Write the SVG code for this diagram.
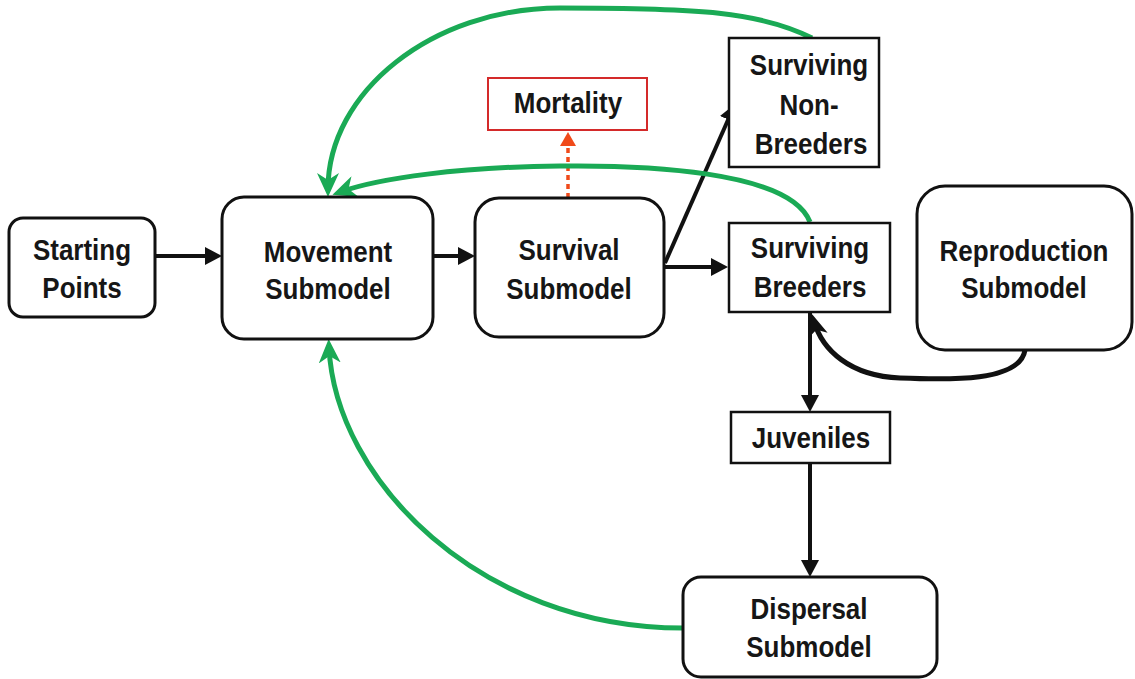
<svg xmlns="http://www.w3.org/2000/svg" width="1135" height="679" viewBox="0 0 1135 679">
<style>
.nb{fill:#fff;stroke:#111;stroke-width:3}
.nr{fill:#fff;stroke:#111;stroke-width:2.5}
.t{font-family:"Liberation Sans",Arial,sans-serif;font-weight:bold;font-size:26px;fill:#161616;text-anchor:middle}
.bk{fill:none;stroke:#111;stroke-width:4;marker-end:url(#ab)}
.gr{fill:none;stroke:#1aaa55;stroke-width:5;marker-end:url(#ag)}
</style>
<defs>
<marker id="ab" viewBox="0 0 17 18" refX="11" refY="9" markerWidth="17" markerHeight="18" markerUnits="userSpaceOnUse" orient="auto"><path d="M0,0 L17,9 L0,18 Z" fill="#111"/></marker>
<marker id="abb" viewBox="0 0 22 20" refX="15" refY="10" markerWidth="22" markerHeight="20" markerUnits="userSpaceOnUse" orient="auto"><path d="M0,0 L22,10 L0,20 L6,10 Z" fill="#111"/></marker>
<marker id="ag" viewBox="0 0 24 22" refX="16" refY="11" markerWidth="24" markerHeight="22" markerUnits="userSpaceOnUse" orient="auto"><path d="M0,0 L24,11 L0,22 L7,11 Z" fill="#1aaa55"/></marker>
<marker id="ar" viewBox="0 0 14 16" refX="8" refY="8" markerWidth="14" markerHeight="16" markerUnits="userSpaceOnUse" orient="auto"><path d="M0,0 L14,8 L0,16 Z" fill="#f04a1a"/></marker>
</defs>
<g id="connectors">
<line class="bk" x1="155" y1="256" x2="216" y2="256"/>
<line class="bk" x1="433" y1="256" x2="469" y2="256"/>
<line class="bk" x1="664" y1="267" x2="722" y2="267"/>
<line class="bk" x1="665" y1="263" x2="732.6" y2="109.5"/>
<line class="bk" x1="810" y1="312" x2="810" y2="406"/>
<line class="bk" x1="810" y1="463" x2="810" y2="571"/>
<path d="M1025,350 C1020,382 950,380 900,378 C850,376 822,350 814,321" fill="none" stroke="#111" stroke-width="5" marker-end="url(#abb)"/>
<line x1="568" y1="198" x2="568" y2="138" stroke="#f04a1a" stroke-width="3.5" stroke-dasharray="5 4" marker-end="url(#ar)"/>
<path class="gr" d="M812,38 C760,12 700,8 560,8 C432,8 328,92 328,189"/>
<path class="gr" d="M810,222 C790,170 640,165 560,166 C460,167 380,178 340,192"/>
<path class="gr" d="M683,628 C480,628 335,480 329,347"/>
</g>
<g id="starting-points">
<rect class="nb" x="9" y="218" width="146" height="99" rx="14"/>
<text class="t" transform="translate(82,260) scale(1,1.15)">Starting</text>
<text class="t" transform="translate(82,298) scale(1,1.15)">Points</text>
</g>
<g id="movement">
<rect class="nb" x="222" y="197" width="211" height="142" rx="22"/>
<text class="t" transform="translate(328,262) scale(1,1.15)">Movement</text>
<text class="t" transform="translate(328,299) scale(1,1.15)">Submodel</text>
</g>
<g id="survival">
<rect class="nb" x="475" y="198" width="189" height="139" rx="24"/>
<text class="t" transform="translate(569,260) scale(1,1.15)">Survival</text>
<text class="t" transform="translate(569,299) scale(1,1.15)">Submodel</text>
</g>
<g id="mortality">
<rect x="488" y="78" width="159" height="52" fill="#fff" stroke="#d42a2a" stroke-width="2"/>
<text class="t" transform="translate(568,113) scale(1,1.15)">Mortality</text>
</g>
<g id="surviving-non-breeders">
<rect class="nr" x="729" y="38" width="150" height="129"/>
<text class="t" transform="translate(809,75) scale(1,1.15)">Surviving</text>
<text class="t" transform="translate(809,115) scale(1,1.15)">Non-</text>
<text class="t" transform="translate(811,154) scale(1,1.15)">Breeders</text>
</g>
<g id="surviving-breeders">
<rect class="nr" x="729" y="223" width="161" height="89"/>
<text class="t" transform="translate(810,258) scale(1,1.15)">Surviving</text>
<text class="t" transform="translate(810,297) scale(1,1.15)">Breeders</text>
</g>
<g id="reproduction">
<rect class="nb" x="917" y="186" width="215" height="164" rx="28"/>
<text class="t" transform="translate(1024,261) scale(1,1.15)">Reproduction</text>
<text class="t" transform="translate(1024,298) scale(1,1.15)">Submodel</text>
</g>
<g id="juveniles">
<rect class="nr" x="731" y="412" width="159" height="51"/>
<text class="t" transform="translate(811,448) scale(1,1.15)">Juveniles</text>
</g>
<g id="dispersal">
<rect class="nb" x="683" y="577" width="254" height="100" rx="18"/>
<text class="t" transform="translate(809,619) scale(1,1.15)">Dispersal</text>
<text class="t" transform="translate(809,657) scale(1,1.15)">Submodel</text>
</g>
</svg>
